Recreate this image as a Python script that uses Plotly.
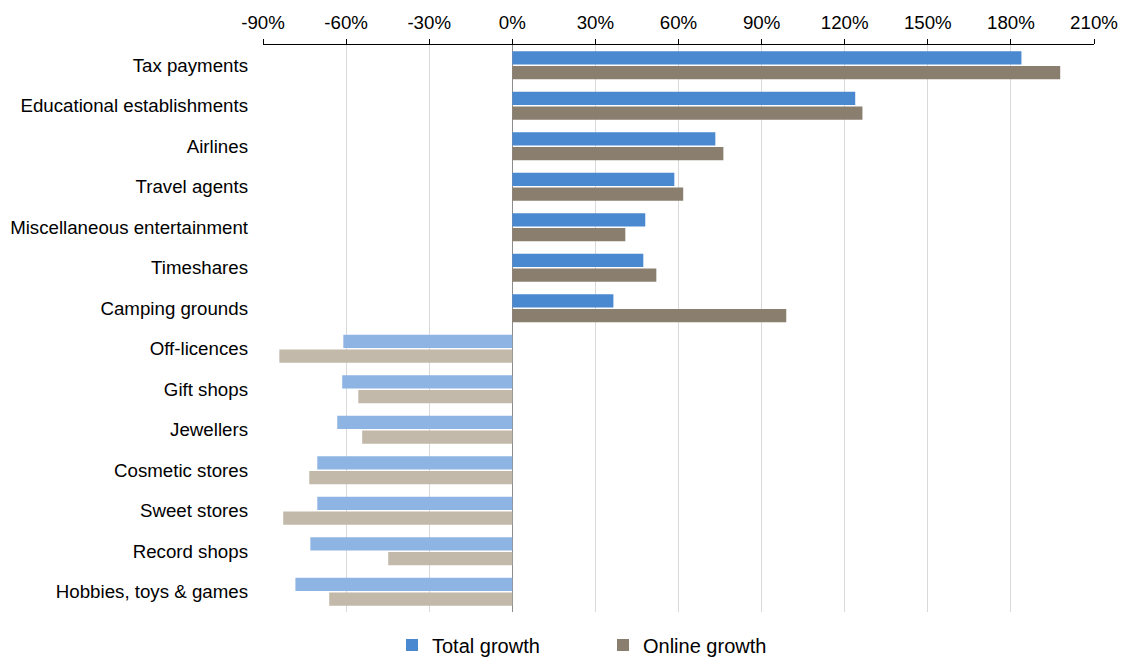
import plotly.graph_objects as go

categories = ["Tax payments", "Educational establishments", "Airlines", "Travel agents",
              "Miscellaneous entertainment", "Timeshares", "Camping grounds", "Off-licences",
              "Gift shops", "Jewellers", "Cosmetic stores", "Sweet stores", "Record shops",
              "Hobbies, toys & games"]
total_growth = [183.8, 123.8, 73.3, 58.5, 48.0, 47.3, 36.5, -61.0, -61.4, -63.2, -70.4, -70.4, -72.9, -78.3]
online_growth = [197.8, 126.4, 76.2, 61.7, 40.8, 52.0, 98.9, -84.1, -55.6, -54.2, -73.3, -82.7, -44.8, -66.1]
tick_vals = [-90, -60, -30, 0, 30, 60, 90, 120, 150, 180, 210]
tick_text = [f"{v}%" for v in tick_vals]

total_colors = ["#4a88d0" if v > 0 else "#8eb4e3" for v in total_growth]
online_colors = ["#8a7f6f" if v > 0 else "#c2b9aa" for v in online_growth]

fig = go.Figure()
fig.add_trace(go.Bar(y=categories, x=total_growth, orientation="h", name="Total growth",
                     marker=dict(color=total_colors, line=dict(width=0))))
fig.add_trace(go.Bar(y=categories, x=online_growth, orientation="h", name="Online growth",
                     marker=dict(color=online_colors, line=dict(width=0))))

font = "Liberation Sans, Arial, sans-serif"
W, H = 1122, 660
fig.update_layout(
    width=W, height=H,
    margin=dict(l=263, r=28, t=45, b=48, autoexpand=False),
    paper_bgcolor="white", plot_bgcolor="white",
    barmode="group", bargap=0.27, bargroupgap=0.1,
    font=dict(family=font, size=18.7, color="#000000"),
    showlegend=True,
    legend=dict(orientation="h", x=392 / W, xanchor="left", xref="container",
                y=-0.058, yanchor="middle", yref="paper",
                font=dict(size=20, family=font), entrywidth=166, entrywidthmode="pixels",
                itemsizing="constant", traceorder="normal", tracegroupgap=0),
    xaxis=dict(side="top", range=[-90, 210], tickvals=tick_vals, ticktext=tick_text,
               showgrid=True, gridcolor="#d9d9d9", gridwidth=1,
               zeroline=True, zerolinecolor="#8c8c8c", zerolinewidth=1,
               showline=True, linecolor="#000000", linewidth=1,
               ticks="outside", ticklen=5, tickcolor="#000000", automargin=False,
               ticklabelstandoff=3, ticklabeloverflow="allow",
               tickfont=dict(size=18.7, family=font), fixedrange=True),
    yaxis=dict(categoryorder="array", categoryarray=categories, autorange="reversed",
               showgrid=False, zeroline=False, showline=False, ticks="", automargin=False,
               ticklabelstandoff=14, tickfont=dict(size=18.7, family=font)),
)
fig.write_html("out.html", config={"displayModeBar": False},
               post_script="document.body.style.margin='0';document.body.style.overflow='hidden';")
